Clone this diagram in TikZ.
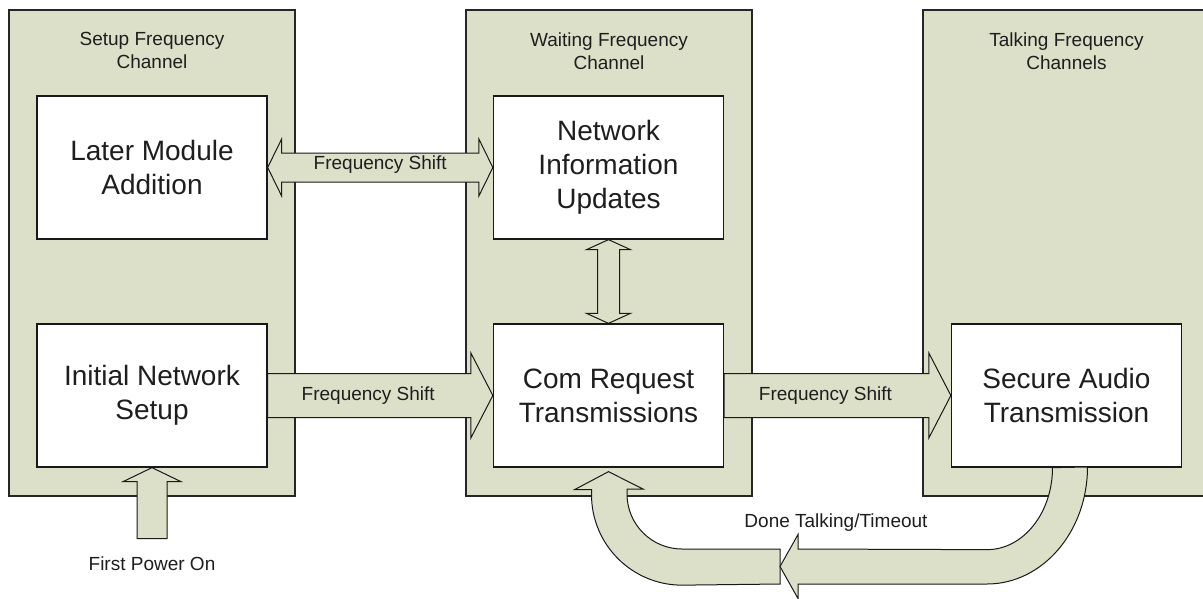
\documentclass[tikz,border=0pt]{standalone}
\usepackage{fontspec}
\setmainfont{Liberation Sans}
\usetikzlibrary{calc}
\definecolor{panelfill}{RGB}{220,224,200}
\definecolor{txt}{RGB}{30,30,30}

\begin{document}
\begin{tikzpicture}[x=1pt,y=-1pt,
  panel/.style={draw=black!85, fill=panelfill, line width=1.3pt, inner sep=0pt},
  stage/.style={draw=black!90, fill=white, line width=1.3pt, minimum width=230pt,
    minimum height=143pt, inner sep=0pt, align=center,
    font=\fontsize{28}{34}\selectfont, text=txt},
  blockarrow/.style={draw=black!90, fill=panelfill, line width=1pt, line join=miter},
  lbl/.style={font=\fontsize{19}{23}\selectfont, text=txt, align=center, inner sep=0pt}]

\useasboundingbox (0,0) rectangle (1203,598);
\fill[white] (0,0) rectangle (1203,598);

\begin{scope}
\clip (0,0) rectangle (1203,598);

% channel panels
\node[panel, minimum width=286pt, minimum height=486pt] (setup) at (152,253) {};
\node[panel, minimum width=286pt, minimum height=486pt] (wait) at (609,253) {};
\node[panel, minimum width=287pt, minimum height=486pt] (talk) at (1066.5,253) {};

\node[lbl] (setupT) at ($(setup.north)+(0,41.5)$) {Setup Frequency\\Channel};
\node[lbl] (waitT) at ($(wait.north)+(0,41.5)$) {Waiting Frequency\\Channel};
\node[lbl] (talkT) at ($(talk.north)+(0,41.5)$) {Talking Frequency\\Channels};

% stages
\node[stage] (later) at (152,167.5) {Later Module\\Addition};
\node[stage] (info) at (608.5,167.5) {Network\\Information\\Updates};
\node[stage] (init) at (152,395.5) {Initial Network\\Setup};
\node[stage] (com) at (608.5,395.5) {Com Request\\Transmissions};
\node[stage] (audio) at (1066.5,395.5) {Secure Audio\\Transmission};

% later <-> info
\draw[blockarrow] (later.east) -- ++(14,-28.5) -- ++(0,14)
  -- ($(info.west)+(-14,-14.5)$) -- ++(0,-14) -- (info.west) -- ++(-14,28.5)
  -- ++(0,-14) -- ($(later.east)+(14,14.5)$) -- ++(0,14) -- cycle;
\node[lbl] (fs1) at ($(later.east)!0.5!(info.west)+(0,-2.5)$) {Frequency Shift};

% info <-> com
\draw[blockarrow] (info.south) -- ++(22,10) -- ++(-11,0)
  -- ($(com.north)+(11,-10)$) -- ++(11,0) -- (com.north) -- ++(-22,-10)
  -- ++(11,0) -- ($(info.south)+(-11,10)$) -- ++(-11,0) -- cycle;

% init -> com
\draw[blockarrow] ($(init.east)+(0,-22)$) -- ($(com.west)+(-22,-22)$) -- ++(0,-20.5)
  -- (com.west) -- ++(-22,42.5) -- ++(0,-20.5) -- ($(init.east)+(0,22)$) -- cycle;
\node[lbl] (fs2) at ($(init.east)!0.5!(com.west)+(-12,0)$) {Frequency Shift};

% com -> audio
\draw[blockarrow] ($(com.east)+(0,-22)$) -- ($(audio.west)+(-22,-22)$) -- ++(0,-20.5)
  -- (audio.west) -- ++(-22,42.5) -- ++(0,-20.5) -- ($(com.east)+(0,22)$) -- cycle;
\node[lbl] (fs3) at ($(com.east)!0.5!(audio.west)+(-12,0)$) {Frequency Shift};

% power on -> init
\coordinate (pwr) at ($(init.south)+(0,71)$);
\draw[blockarrow] ($(pwr)+(-15,0)$) -- ++(0,-57) -- ++(-14,0) -- (init.south)
  -- ++(29,14) -- ++(-14,0) -- ($(pwr)+(15,0)$) -- cycle;
\node[lbl] (pwrT) at ($(pwr)+(0,25)$) {First Power On};

% return path: audio -> bend -> com
\coordinate (bend) at (780,566.5);
\draw[blockarrow] ($(bend)+(0,-17.5)$) -- ++(-98,0)
  arc[start angle=90, end angle=180, radius=55] -- ++(0,-5) -- ++(16,0)
  -- ($(com.south)+(0,4)$) -- ++(-34,18) -- ++(17,0) -- ++(0,5)
  arc[start angle=180, end angle=90, radius=90.5] -- ($(bend)+(0,17.5)$) -- cycle;
\draw[blockarrow] ($(audio.south)+(-14,0)$)
  arc[start angle=0, end angle=90, x radius=65.5, y radius=82]
  -- ($(bend)+(18,-17.5)$) -- ++(0,-14.5) -- (bend) -- ++(18,32) -- ++(0,-14.5)
  -- ($(bend)+(207,17.5)$)
  arc[start angle=90, end angle=0, x radius=100.5, y radius=117] -- cycle;
\node[lbl] (doneT) at ($(bend)+(56,-43.5)$) {Done Talking/Timeout};
\end{scope}
\end{tikzpicture}
\end{document}
